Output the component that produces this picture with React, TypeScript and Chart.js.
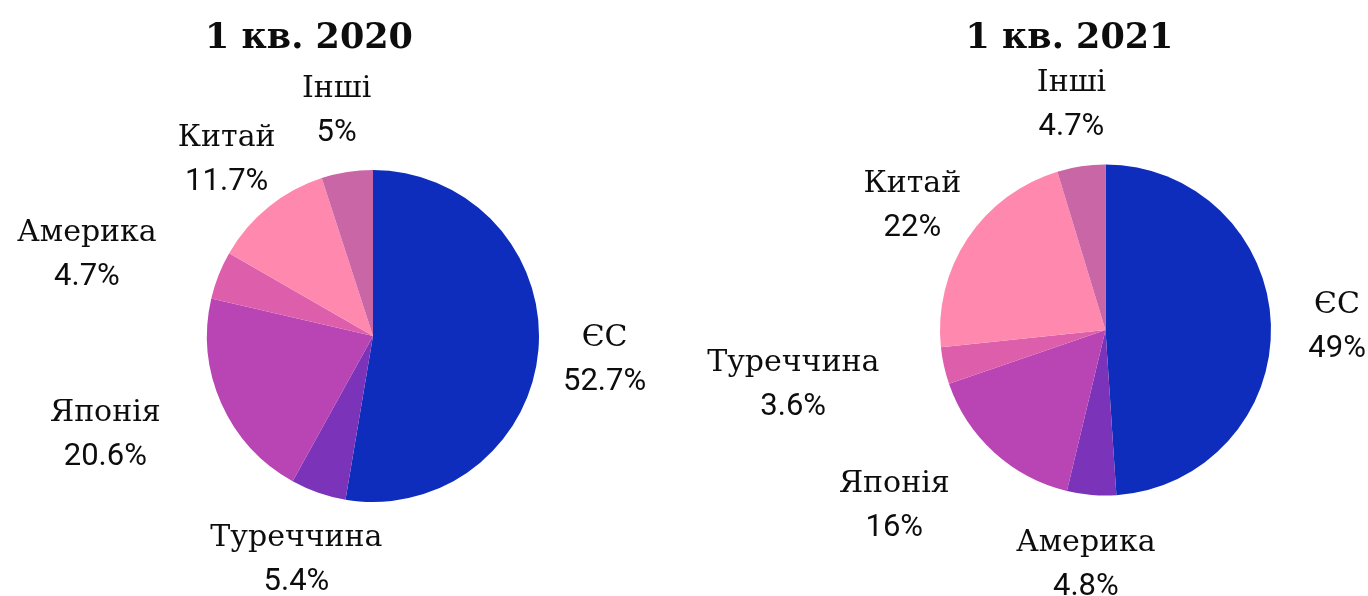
import React, { useEffect, useRef } from 'react';
import { Chart, registerables } from 'chart.js';

Chart.register(...registerables);

// ---------- data ----------
const title2020 = '1 кв. 2020';
const categories2020 = ['ЄС', 'Туреччина', 'Японія', 'Америка', 'Китай', 'Інші'];
const values2020 = [52.7, 5.4, 20.6, 4.7, 11.7, 5];

const title2021 = '1 кв. 2021';
const categories2021 = ['ЄС', 'Америка', 'Японія', 'Туреччина', 'Китай', 'Інші'];
const values2021 = [49, 4.8, 16, 3.6, 22, 4.7];

const sliceColors = ['#0e2dbd', '#7b33b9', '#b944b4', '#dd5fac', '#ff88ae', '#c866a6'];

// ---------- layout / style ----------
const W = 1368;
const H = 596;
const LABEL_FACTOR = 1.4;
const NAME_FONT = '30px "DejaVu Serif"';
const PCT_FONT = '31px Roboto';
const TITLE_FONT = 'bold 35px "DejaVu Serif"';
const TITLE_Y = 48;
const NAME_DY = -9.5;
const PCT_DY = 34.5;

type Align = 'center' | 'right' | 'left';

interface PieProps {
  labels: string[];
  values: number[];
  title: string;
  cx: number;
  cy: number;
  r: number;
  titleX: number;
  align: Align[];
}

function PieChart({ labels, values, title, cx, cy, r, titleX, align }: PieProps) {
  const ref = useRef<HTMLCanvasElement>(null);

  useEffect(() => {
    if (!ref.current) return;
    const labelPlugin = {
      id: 'outerLabels',
      afterDraw(chart: any) {
        const ctx: CanvasRenderingContext2D = chart.ctx;
        const meta = chart.getDatasetMeta(0);
        ctx.save();
        ctx.fillStyle = '#0d0d0d';
        ctx.textBaseline = 'alphabetic';
        ctx.textAlign = 'center';
        meta.data.forEach((arc: any, i: number) => {
          const p = arc.getProps(['startAngle', 'endAngle', 'outerRadius', 'x', 'y'], true);
          const mid = (p.startAngle + p.endAngle) / 2;
          const ax = p.x + Math.cos(mid) * p.outerRadius * LABEL_FACTOR;
          const ay = p.y + Math.sin(mid) * p.outerRadius * LABEL_FACTOR;
          const pct = values[i] + '%';
          ctx.font = NAME_FONT;
          const w1 = ctx.measureText(labels[i]).width;
          ctx.font = PCT_FONT;
          const w2 = ctx.measureText(pct).width;
          const bw = Math.max(w1, w2);
          let bx = ax;
          if (align[i] === 'right') bx = ax - bw / 2;
          else if (align[i] === 'left') bx = ax + bw / 2;
          ctx.font = NAME_FONT;
          ctx.fillText(labels[i], bx, ay + NAME_DY);
          ctx.font = PCT_FONT;
          ctx.fillText(pct, bx, ay + PCT_DY);
        });
        ctx.font = TITLE_FONT;
        ctx.fillText(title, titleX, TITLE_Y);
        ctx.restore();
      },
    };

    const chart = new Chart(ref.current, {
      type: 'pie',
      data: {
        labels,
        datasets: [
          {
            data: values,
            backgroundColor: sliceColors,
            borderWidth: 0,
            hoverOffset: 0,
            offset: 0,
          },
        ],
      },
      options: {
        responsive: false,
        animation: false,
        events: [],
        layout: {
          padding: { left: cx - r, right: W - cx - r, top: cy - r, bottom: H - cy - r },
        },
        plugins: {
          legend: { display: false },
          tooltip: { enabled: false },
          title: { display: false },
        },
      },
      plugins: [labelPlugin],
    } as any);
    return () => chart.destroy();
  }, []);

  return (
    <canvas
      ref={ref}
      width={W}
      height={H}
      style={{ position: 'absolute', left: 0, top: 0, width: W, height: H }}
    />
  );
}

export default function App() {
  return (
    <div style={{ position: 'fixed', left: 0, top: 0, width: W, height: H, background: '#ffffff' }}>
      <PieChart
        labels={categories2020}
        values={values2020}
        title={title2020}
        cx={373}
        cy={336}
        r={166}
        titleX={309}
        align={['center', 'center', 'right', 'right', 'center', 'center']}
      />
      <PieChart
        labels={categories2021}
        values={values2021}
        title={title2021}
        cx={1105.5}
        cy={330}
        r={165.5}
        titleX={1069.5}
        align={['center', 'center', 'right', 'right', 'center', 'center']}
      />
    </div>
  );
}
